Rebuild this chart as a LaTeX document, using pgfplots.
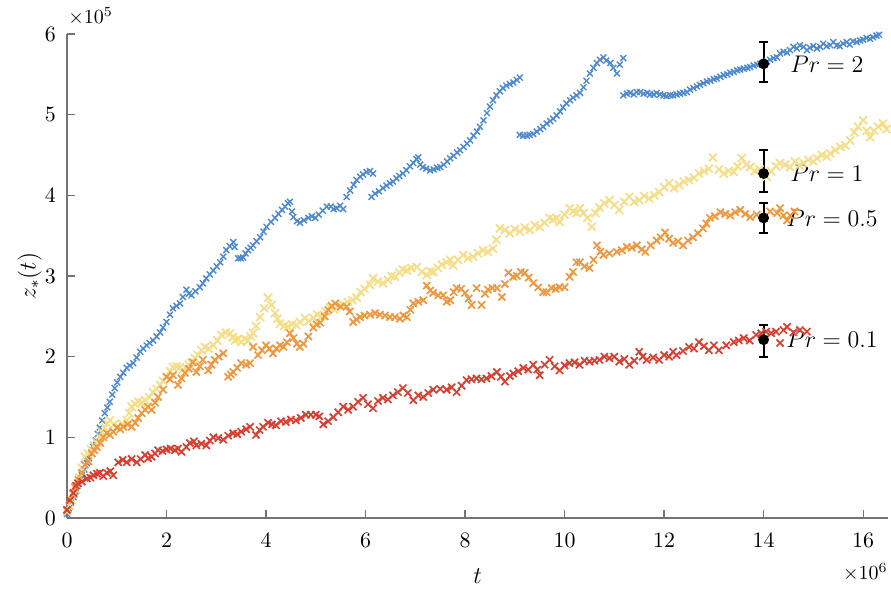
\documentclass[border=0pt]{standalone}
\usepackage{pgfplots}
\pgfplotsset{compat=1.18}
\definecolor{cblue}{RGB}{78,136,208}
\definecolor{cyellow}{RGB}{245,222,135}
\definecolor{corange}{RGB}{242,150,60}
\definecolor{cred}{RGB}{218,62,48}
\begin{document}
\begin{tikzpicture}
\begin{axis}[
  scale only axis, width=410.5pt, height=242pt,
  xmin=0, xmax=16.5, ymin=0, ymax=6,
  xtick={0,2,...,16}, ytick={0,1,...,6},
  axis x line*=bottom, axis y line*=left,
  axis line style={black!55, line width=0.6pt, -},
  tick style={black!55, line width=0.6pt},
  major tick length=4pt, tick align=inside,
  ticklabel style={font=\fontsize{11}{13}\selectfont, black},
  xticklabel style={yshift=-4pt},
  yticklabel style={xshift=-2pt},
  clip=false,
]
\addplot[only marks, mark=x, mark size=2.1pt, cblue, mark options={line width=0.7pt}] table {
0.00 0.05
0.04 0.12
0.08 0.19
0.13 0.26
0.17 0.33
0.21 0.40
0.26 0.47
0.30 0.53
0.35 0.60
0.40 0.68
0.44 0.74
0.49 0.81
0.53 0.88
0.58 0.96
0.62 1.04
0.66 1.12
0.71 1.21
0.76 1.30
0.81 1.37
0.86 1.44
0.91 1.53
0.96 1.61
1.01 1.68
1.07 1.75
1.13 1.80
1.20 1.86
1.26 1.89
1.33 1.92
1.40 1.99
1.47 2.06
1.53 2.10
1.60 2.14
1.66 2.17
1.73 2.20
1.80 2.25
1.87 2.30
1.93 2.36
2.00 2.43
2.07 2.52
2.13 2.60
2.20 2.63
2.27 2.66
2.33 2.74
2.40 2.83
2.45 2.78
2.50 2.76
2.58 2.81
2.67 2.86
2.73 2.91
2.80 2.97
2.87 3.02
2.94 3.07
3.01 3.12
3.08 3.17
3.14 3.24
3.20 3.32
3.27 3.37
3.34 3.42
3.37 3.36
3.44 3.22
3.49 3.22
3.54 3.23
3.59 3.28
3.64 3.32
3.69 3.35
3.74 3.38
3.81 3.43
3.88 3.48
3.95 3.55
4.01 3.61
4.10 3.67
4.18 3.72
4.25 3.77
4.32 3.82
4.38 3.86
4.44 3.90
4.48 3.92
4.52 3.80
4.55 3.73
4.62 3.68
4.68 3.66
4.76 3.69
4.85 3.72
4.92 3.74
4.99 3.72
5.06 3.76
5.14 3.81
5.22 3.86
5.30 3.86
5.36 3.83
5.42 3.84
5.49 3.87
5.55 3.83
5.62 3.98
5.69 4.06
5.76 4.13
5.82 4.19
5.89 4.23
5.95 4.26
6.02 4.29
6.09 4.30
6.15 4.27
6.12 3.98
6.19 4.02
6.27 4.05
6.35 4.09
6.42 4.12
6.49 4.15
6.55 4.17
6.62 4.21
6.68 4.24
6.75 4.27
6.82 4.31
6.89 4.36
6.96 4.40
7.02 4.45
7.06 4.47
7.10 4.38
7.15 4.35
7.22 4.33
7.30 4.31
7.37 4.32
7.44 4.34
7.50 4.35
7.57 4.38
7.64 4.42
7.70 4.46
7.77 4.49
7.84 4.53
7.90 4.56
7.97 4.60
8.04 4.64
8.10 4.68
8.17 4.74
8.24 4.79
8.30 4.85
8.37 4.93
8.44 5.02
8.50 5.10
8.56 5.18
8.63 5.24
8.70 5.29
8.76 5.33
8.83 5.36
8.90 5.38
8.97 5.40
9.04 5.43
9.10 5.46
9.10 4.75
9.17 4.74
9.24 4.74
9.30 4.75
9.37 4.76
9.44 4.79
9.51 4.82
9.57 4.85
9.64 4.89
9.71 4.92
9.77 4.95
9.84 4.99
9.91 5.04
9.97 5.09
10.04 5.14
10.11 5.18
10.17 5.21
10.24 5.24
10.31 5.27
10.38 5.34
10.44 5.42
10.51 5.51
10.58 5.58
10.65 5.64
10.71 5.68
10.78 5.71
10.84 5.67
10.92 5.64
10.98 5.58
11.05 5.51
11.11 5.62
11.18 5.70
11.18 5.24
11.25 5.26
11.32 5.27
11.39 5.25
11.45 5.28
11.52 5.28
11.59 5.26
11.66 5.27
11.72 5.25
11.79 5.25
11.85 5.27
11.92 5.25
11.99 5.24
12.05 5.23
12.12 5.24
12.18 5.24
12.25 5.25
12.32 5.26
12.39 5.27
12.46 5.28
12.52 5.31
12.59 5.33
12.66 5.35
12.72 5.37
12.79 5.39
12.86 5.41
12.93 5.42
13.00 5.44
13.06 5.45
13.13 5.47
13.20 5.49
13.27 5.50
13.33 5.52
13.40 5.53
13.47 5.55
13.53 5.56
13.60 5.57
13.67 5.58
13.73 5.59
13.80 5.61
13.87 5.62
13.93 5.63
14.00 5.64
14.07 5.66
14.13 5.68
14.20 5.70
14.27 5.71
14.33 5.76
14.40 5.78
14.47 5.77
14.53 5.80
14.60 5.84
14.67 5.82
14.73 5.86
14.80 5.84
14.87 5.80
14.93 5.83
15.00 5.85
15.07 5.82
15.14 5.84
15.20 5.88
15.27 5.85
15.34 5.86
15.40 5.90
15.47 5.86
15.53 5.85
15.60 5.88
15.67 5.90
15.73 5.87
15.80 5.91
15.87 5.90
15.94 5.92
16.00 5.93
16.07 5.95
16.14 5.94
16.20 5.96
16.27 5.98
16.32 5.99
};
\addplot[only marks, mark=x, mark size=2.8pt, cyellow, mark options={line width=0.9pt}] table {
0.00 0.08
0.05 0.15
0.09 0.22
0.14 0.30
0.19 0.35
0.25 0.50
0.30 0.62
0.36 0.76
0.42 0.80
0.48 0.85
0.54 0.90
0.60 0.93
0.66 1.00
0.71 1.06
0.76 1.12
0.81 1.17
0.86 1.21
0.94 1.16
1.03 1.13
1.10 1.17
1.20 1.21
1.25 1.30
1.30 1.38
1.37 1.41
1.43 1.44
1.50 1.43
1.57 1.46
1.65 1.50
1.73 1.56
1.80 1.60
1.87 1.65
1.93 1.70
2.00 1.75
2.07 1.82
2.13 1.87
2.20 1.88
2.27 1.87
2.33 1.84
2.40 1.86
2.45 1.90
2.50 1.93
2.57 1.98
2.63 2.02
2.70 2.08
2.77 2.12
2.85 2.10
2.94 2.14
3.02 2.20
3.10 2.27
3.19 2.30
3.28 2.29
3.33 2.24
3.38 2.20
3.44 2.22
3.50 2.18
3.57 2.22
3.64 2.20
3.69 2.25
3.74 2.29
3.80 2.38
3.88 2.49
3.96 2.60
4.04 2.73
4.11 2.64
4.18 2.54
4.23 2.47
4.28 2.41
4.36 2.38
4.44 2.37
4.52 2.40
4.61 2.39
4.68 2.43
4.78 2.48
4.86 2.44
4.95 2.48
5.03 2.52
5.12 2.50
5.20 2.56
5.29 2.61
5.37 2.58
5.46 2.63
5.55 2.64
5.64 2.68
5.73 2.70
5.82 2.73
5.90 2.80
5.98 2.84
6.09 2.89
6.15 2.97
6.25 2.93
6.35 2.91
6.45 2.95
6.52 3.00
6.59 2.99
6.68 3.04
6.75 3.08
6.83 3.07
6.92 3.10
7.03 3.11
7.13 3.05
7.23 3.01
7.30 3.06
7.36 3.05
7.45 3.10
7.53 3.14
7.63 3.17
7.70 3.20
7.76 3.13
7.86 3.20
7.96 3.26
8.06 3.22
8.16 3.24
8.26 3.28
8.36 3.32
8.46 3.30
8.56 3.34
8.63 3.45
8.70 3.59
8.80 3.57
8.90 3.53
9.00 3.58
9.10 3.55
9.20 3.60
9.30 3.57
9.40 3.63
9.50 3.61
9.60 3.66
9.70 3.72
9.77 3.70
9.84 3.72
9.90 3.67
10.00 3.76
10.10 3.84
10.17 3.80
10.24 3.78
10.31 3.84
10.38 3.78
10.46 3.72
10.55 3.61
10.62 3.78
10.70 3.85
10.80 3.90
10.90 3.94
11.00 3.88
11.10 3.82
11.20 3.92
11.30 3.98
11.40 3.92
11.50 3.94
11.60 3.99
11.70 3.96
11.80 4.00
11.90 4.04
12.00 4.10
12.10 4.15
12.20 4.09
12.30 4.13
12.40 4.17
12.50 4.19
12.60 4.22
12.70 4.27
12.80 4.30
12.90 4.33
12.98 4.47
13.10 4.32
13.20 4.27
13.30 4.30
13.40 4.29
13.48 4.36
13.56 4.46
13.65 4.38
13.73 4.35
13.82 4.30
13.92 4.32
14.06 4.23
14.15 4.30
14.25 4.36
14.33 4.40
14.43 4.38
14.53 4.35
14.63 4.42
14.72 4.37
14.80 4.40
14.90 4.44
15.00 4.42
15.07 4.46
15.17 4.50
15.27 4.48
15.34 4.52
15.44 4.56
15.54 4.60
15.64 4.62
15.74 4.68
15.82 4.78
15.90 4.85
16.00 4.93
16.07 4.80
16.14 4.72
16.22 4.80
16.30 4.85
16.40 4.89
16.47 4.82
};
\addplot[only marks, mark=x, mark size=2.5pt, corange, mark options={line width=0.85pt}] table {
0.00 0.10
0.06 0.22
0.12 0.30
0.16 0.38
0.23 0.47
0.30 0.56
0.36 0.66
0.43 0.70
0.50 0.80
0.55 0.84
0.60 0.88
0.67 0.93
0.73 1.00
0.80 1.05
0.86 1.03
0.93 1.07
1.00 1.12
1.07 1.10
1.13 1.13
1.22 1.16
1.30 1.13
1.37 1.18
1.43 1.24
1.50 1.30
1.57 1.34
1.63 1.38
1.70 1.34
1.77 1.43
1.83 1.50
1.93 1.59
2.00 1.75
2.07 1.72
2.13 1.77
2.23 1.65
2.30 1.73
2.37 1.80
2.45 1.85
2.53 1.93
2.60 1.81
2.67 1.88
2.73 1.96
2.84 1.83
2.90 1.90
2.97 1.96
3.05 2.00
3.14 2.04
3.24 1.75
3.29 1.78
3.34 1.81
3.42 1.86
3.50 1.92
3.60 1.90
3.68 1.92
3.74 2.12
3.84 2.02
3.92 2.08
4.00 2.14
4.07 2.10
4.14 2.04
4.21 2.10
4.28 2.14
4.35 2.12
4.42 2.18
4.48 2.29
4.55 2.23
4.62 2.16
4.68 2.12
4.75 2.16
4.85 2.25
4.95 2.36
5.02 2.40
5.09 2.42
5.18 2.50
5.25 2.58
5.32 2.63
5.39 2.66
5.50 2.62
5.62 2.62
5.68 2.56
5.75 2.43
5.82 2.46
5.89 2.49
5.98 2.51
6.09 2.52
6.19 2.54
6.29 2.52
6.39 2.51
6.49 2.49
6.59 2.49
6.69 2.47
6.76 2.51
6.83 2.49
6.90 2.58
6.96 2.66
7.06 2.68
7.16 2.70
7.23 2.88
7.30 2.82
7.36 2.79
7.46 2.76
7.56 2.76
7.63 2.68
7.70 2.70
7.77 2.80
7.83 2.85
7.92 2.84
8.00 2.79
8.07 2.72
8.13 2.64
8.23 2.85
8.33 2.64
8.40 2.78
8.46 2.83
8.55 2.85
8.64 2.85
8.74 2.74
8.80 2.90
8.87 3.04
8.97 2.99
9.04 3.00
9.12 3.05
9.20 3.04
9.28 2.98
9.37 2.91
9.47 2.86
9.57 2.80
9.64 2.80
9.74 2.85
9.82 2.84
9.90 2.86
10.00 2.86
10.10 2.99
10.17 3.05
10.24 3.17
10.31 3.17
10.40 3.12
10.50 3.10
10.58 3.20
10.65 3.38
10.72 3.30
10.78 3.26
10.90 3.28
11.05 3.30
11.15 3.32
11.25 3.36
11.35 3.35
11.45 3.38
11.55 3.33
11.62 3.30
11.73 3.38
11.85 3.44
11.93 3.48
12.02 3.54
12.10 3.46
12.18 3.41
12.28 3.43
12.38 3.38
12.48 3.44
12.58 3.48
12.68 3.53
12.78 3.59
12.85 3.65
12.92 3.72
13.02 3.74
13.13 3.79
13.23 3.77
13.33 3.75
13.43 3.79
13.53 3.82
13.63 3.77
13.73 3.73
13.86 3.76
14.00 3.72
14.13 3.80
14.27 3.78
14.33 3.84
14.40 3.75
14.47 3.69
14.53 3.75
14.62 3.80
};
\addplot[only marks, mark=x, mark size=2.5pt, cred, mark options={line width=0.85pt}] table {
0.00 0.10
0.06 0.22
0.13 0.31
0.18 0.40
0.22 0.43
0.30 0.45
0.40 0.49
0.47 0.50
0.53 0.53
0.60 0.55
0.66 0.56
0.73 0.52
0.80 0.56
0.87 0.58
0.93 0.53
1.03 0.69
1.12 0.72
1.20 0.69
1.30 0.73
1.40 0.69
1.48 0.73
1.57 0.78
1.63 0.74
1.70 0.76
1.77 0.80
1.83 0.84
1.92 0.83
2.00 0.85
2.08 0.86
2.17 0.84
2.23 0.86
2.30 0.82
2.40 0.88
2.47 0.93
2.55 0.95
2.60 0.90
2.70 0.92
2.80 0.90
2.87 0.96
2.94 1.00
3.04 0.99
3.14 0.97
3.24 1.02
3.34 1.05
3.42 1.04
3.50 1.07
3.60 1.10
3.68 1.13
3.80 1.03
3.87 1.09
3.94 1.13
4.04 1.18
4.12 1.16
4.20 1.15
4.30 1.20
4.40 1.19
4.50 1.22
4.60 1.21
4.70 1.24
4.80 1.28
4.90 1.28
5.00 1.28
5.07 1.26
5.15 1.16
5.25 1.20
5.35 1.25
5.45 1.31
5.55 1.38
5.65 1.34
5.75 1.38
5.85 1.44
5.95 1.49
6.05 1.41
6.15 1.36
6.25 1.45
6.35 1.49
6.45 1.47
6.55 1.52
6.65 1.56
6.75 1.61
6.85 1.55
6.96 1.46
7.06 1.52
7.16 1.50
7.26 1.55
7.36 1.59
7.50 1.60
7.63 1.59
7.73 1.62
7.83 1.56
7.93 1.64
8.03 1.71
8.13 1.72
8.23 1.73
8.33 1.72
8.43 1.73
8.53 1.76
8.64 1.81
8.72 1.75
8.80 1.69
8.90 1.76
8.97 1.79
9.07 1.82
9.17 1.86
9.27 1.84
9.37 1.90
9.45 1.84
9.50 1.77
9.60 1.90
9.70 1.96
9.80 1.88
9.90 1.83
10.00 1.89
10.10 1.92
10.20 1.93
10.30 1.90
10.40 1.95
10.50 1.94
10.60 1.95
10.70 1.96
10.80 2.00
10.90 1.98
11.00 2.00
11.10 1.94
11.20 1.97
11.30 1.90
11.40 1.95
11.50 2.06
11.57 2.00
11.65 1.96
11.78 1.99
11.90 1.96
12.00 2.02
12.10 2.00
12.18 2.06
12.25 2.02
12.38 2.07
12.50 2.12
12.60 2.10
12.70 2.18
12.80 2.13
12.90 2.08
13.00 2.14
13.10 2.08
13.25 2.14
13.40 2.18
13.50 2.20
13.60 2.23
13.72 2.20
13.85 2.27
13.95 2.29
14.05 2.31
14.15 2.29
14.25 2.31
14.33 2.17
14.40 2.33
14.47 2.37
14.60 2.30
14.73 2.33
14.87 2.31
};
\addplot[only marks, mark=*, mark size=2.5pt, black,
  error bars/.cd, y dir=both, y explicit,
  error bar style={line width=1pt, black},
  error mark options={rotate=90, line width=1pt, mark size=2.2pt, black}]
  coordinates {
  (14,5.63) += (0,0.27) -= (0,0.23)
  (14,4.27) += (0,0.29) -= (0,0.23)
  (14,3.72) += (0,0.18) -= (0,0.19)
  (14,2.21) += (0,0.18) -= (0,0.21)
};
\node[anchor=west, inner sep=0pt, font=\fontsize{12}{14}\selectfont] at (axis cs:14.53,5.63) {$Pr=2$};
\node[anchor=west, inner sep=0pt, font=\fontsize{12}{14}\selectfont] at (axis cs:14.53,4.27) {$Pr=1$};
\node[anchor=west, inner sep=0pt, font=\fontsize{12}{14}\selectfont] at (axis cs:14.45,3.72) {$Pr=0.5$};
\node[anchor=west, inner sep=0pt, font=\fontsize{12}{14}\selectfont] at (axis cs:14.45,2.21) {$Pr=0.1$};
\node[anchor=base west, inner sep=0pt, font=\fontsize{10}{12}\selectfont] at ([xshift=0.5pt,yshift=5pt]rel axis cs:0,1) {$\times10^{5}$};
\node[anchor=base east, inner sep=0pt, font=\fontsize{10}{12}\selectfont] at ([yshift=-31pt]rel axis cs:1,0) {$\times10^{6}$};
\node[anchor=base, inner sep=0pt, font=\fontsize{12}{14}\selectfont] at ([yshift=-33pt]rel axis cs:0.5,0) {$t$};
\node[rotate=90, anchor=south, inner sep=0pt, font=\fontsize{12}{14}\selectfont] at ([xshift=-12.5pt]rel axis cs:0,0.5) {$z_*(t)$};
\coordinate (bbsw) at (rel axis cs:0,0);
\coordinate (bbne) at (rel axis cs:1,1);
\end{axis}
\pgfresetboundingbox
\path[use as bounding box] ([xshift=-33.5pt,yshift=-36pt]bbsw) rectangle ([xshift=1.5pt,yshift=17pt]bbne);
\end{tikzpicture}
\end{document}
